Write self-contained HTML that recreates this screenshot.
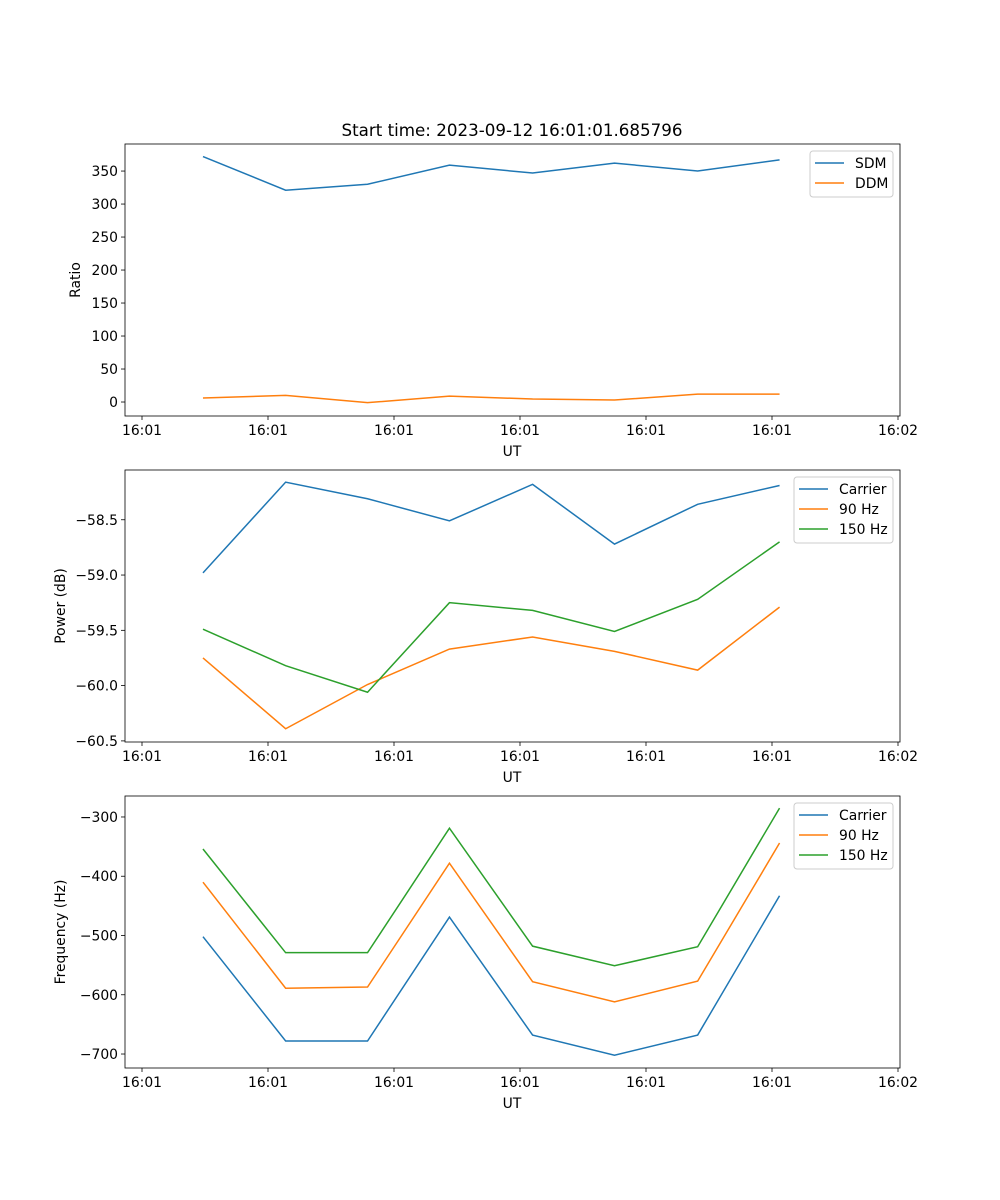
<!DOCTYPE html>
<html><head><meta charset="utf-8"><style>
body{margin:0;background:#fff;}
svg{display:block;font-family:"DejaVu Sans","Liberation Sans",sans-serif;}
</style></head><body>
<svg id="fig" width="1000" height="1200"></svg>
<script>
const times=[4.84,11.4,17.9,24.4,31.0,37.5,44.1,50.6];
const xTickVals=[0,10,20,30,40,50,60];
const xTickLabels=["16:01","16:01","16:01","16:01","16:01","16:01","16:02"];
const sdm=[372,321,330,359,347,362,350,367];
const ddm=[6,10,-1,9,4.5,3,12,12];
const pCarrier=[-58.98,-58.16,-58.31,-58.51,-58.18,-58.72,-58.36,-58.19];
const p90=[-59.75,-60.39,-59.99,-59.67,-59.56,-59.69,-59.86,-59.29];
const p150=[-59.49,-59.82,-60.06,-59.25,-59.32,-59.51,-59.22,-58.70];
const fCarrier=[-502,-678,-678,-469,-668,-702,-668,-433];
const f90=[-410,-589,-587,-378,-578,-612,-577,-344];
const f150=[-354,-529,-529,-319,-518,-551,-519,-285];
const ticks1=[0,50,100,150,200,250,300,350];
const ticks2=[-58.5,-59.0,-59.5,-60.0,-60.5];
const ticks3=[-300,-400,-500,-600,-700];

const NS="http://www.w3.org/2000/svg";
const svg=document.getElementById('fig');
function mk(tag,attrs,parent){const e=document.createElementNS(NS,tag);for(const k in attrs)e.setAttribute(k,attrs[k]);(parent||svg).appendChild(e);return e;}
const X0=125,X1=900,FS=13.9;
function xs(t){return 142+(t/10)*126;}
const C=['#1f77b4','#ff7f0e','#2ca02c'];

function panel(name,top,ymin,ymax,yticks,fmt,ylabel,series,labels,legend){
  const bot=top+272;
  const g=mk('g',{});
  
  
  const ys=v=>bot-(v-ymin)/(ymax-ymin)*272;
  xTickVals.forEach((t,i)=>{
    const x=xs(t);
    const tk=mk('line',{x1:x,x2:x,y1:bot,y2:bot+4,stroke:'#000','stroke-width':0.8},g);
    
    const tx=mk('text',{x:x,y:bot+19,'font-size':FS,'text-anchor':'middle'},g);
    tx.textContent=xTickLabels[i];
    
  });
  yticks.forEach(v=>{
    const y=ys(v);
    const tk=mk('line',{x1:X0-4,x2:X0,y1:y,y2:y,stroke:'#000','stroke-width':0.8},g);
    
    const tx=mk('text',{x:X0-7,y:y+5,'font-size':FS,'text-anchor':'end'},g);
    tx.textContent=fmt(v);
    
  });
  const xl=mk('text',{x:512,y:bot+40,'font-size':FS,'text-anchor':'middle'},g);
  xl.textContent='UT';
  
  const yl=mk('text',{x:0,y:0,'font-size':FS,'text-anchor':'middle',transform:`translate(${name==='ratio-panel'?80:65},${top+136}) rotate(-90)`},g);
  yl.textContent=ylabel;
  
  series.forEach((s,i)=>{
    const pl=mk('polyline',{points:s.map((v,j)=>xs(times[j])+','+ys(v)).join(' '),fill:'none',stroke:C[i],'stroke-width':1.5},g);
    
    
  });
  const fr=mk('rect',{x:X0,y:top,width:X1-X0,height:272,fill:'none',stroke:'#000','stroke-width':0.8},g);
  
  const lg=mk('g',{},g);
  
  mk('rect',{x:legend.x,y:top+7,width:legend.w,height:labels.length*20+6,rx:3,fill:'#fff',stroke:'#ccc','stroke-width':1},lg);
  labels.forEach((l,i)=>{
    const y=top+19+i*20;
    const e=mk('g',{},lg);
    
    mk('line',{x1:legend.x+5,x2:legend.x+34,y1:y,y2:y,stroke:C[i],'stroke-width':1.5},e);
    const t=mk('text',{x:legend.x+45,y:y+5,'font-size':FS},e);
    t.textContent=l;
  });
}
const tt=mk('text',{x:512,y:136,'font-size':16.7,'text-anchor':'middle'});
tt.textContent='Start time: 2023-09-12 16:01:01.685796';

panel('ratio-panel',144,-21.2,391,ticks1,v=>String(v),'Ratio',[sdm,ddm],['SDM','DDM'],{x:810,w:83});
panel('power-panel',470,-60.51,-58.05,ticks2,v=>'\u2212'+Math.abs(v).toFixed(1),'Power (dB)',[pCarrier,p90,p150],['Carrier','90 Hz','150 Hz'],{x:794,w:99});
panel('frequency-panel',796,-723.6,-264.6,ticks3,v=>'\u2212'+Math.abs(v),'Frequency (Hz)',[fCarrier,f90,f150],['Carrier','90 Hz','150 Hz'],{x:794,w:99});
</script>
</body></html>
